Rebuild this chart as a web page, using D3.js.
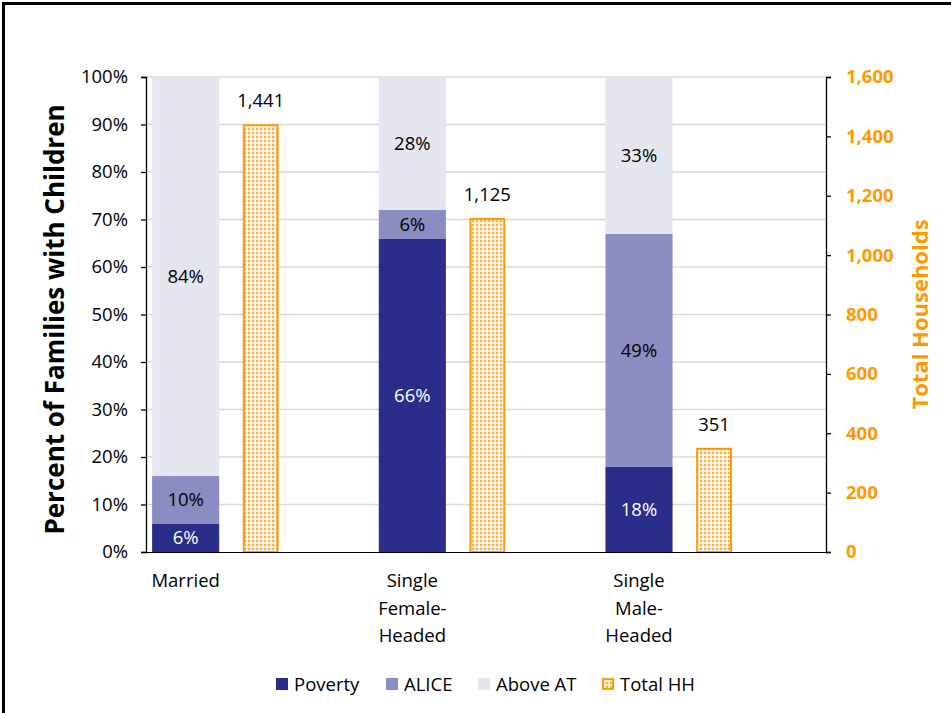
<!DOCTYPE html>
<html><head><meta charset="utf-8">
<script src="https://cdn.jsdelivr.net/npm/d3@7"></script>
<style>body{margin:0;background:#fff}svg{display:block}text{font-family:"Open Sans",Lato,sans-serif}</style>
</head><body><svg id="c" width="951" height="713"></svg>
<script>
const categories = ["Married", "Single Female-Headed", "Single Male-Headed"];
const categoryLines = [["Married"], ["Single", "Female-", "Headed"], ["Single", "Male-", "Headed"]];
const poverty = [6, 66, 18];
const alice = [10, 6, 49];
const aboveAT = [84, 28, 33];
const totalHH = [1441, 1125, 351];
const leftTicks = [0, 10, 20, 30, 40, 50, 60, 70, 80, 90, 100];
const rightTicks = [0, 200, 400, 600, 800, 1000, 1200, 1400, 1600];
const seriesNames = ["Poverty", "ALICE", "Above AT", "Total HH"];

const colors = {Poverty: "#2B2D8A", ALICE: "#8A8CC2", "Above AT": "#E6E6F0", orange: "#FF9900"};
const FONT = "Open Sans";
const FS = 18.5;
const svg = d3.select("#c");
const M = {l: 146, r: 826, t: 77, b: 552};

const defs = svg.append("defs");
const pat = defs.append("pattern").attr("id", "dots").attr("patternUnits", "userSpaceOnUse")
  .attr("width", 4).attr("height", 4);
pat.append("rect").attr("width", 4).attr("height", 4).attr("fill", "#FFEBCC");
pat.append("rect").attr("x", 0).attr("y", 0).attr("width", 2).attr("height", 2).attr("fill", "#FFB040");
pat.append("rect").attr("x", 2).attr("y", 2).attr("width", 2).attr("height", 2).attr("fill", "#FFFFFF");

// border
svg.append("line").attr("x1", 2).attr("x2", 951).attr("y1", 3.5).attr("y2", 3.5).attr("stroke", "#000").attr("stroke-width", 3);
svg.append("line").attr("x1", 3.5).attr("x2", 3.5).attr("y1", 2).attr("y2", 713).attr("stroke", "#000").attr("stroke-width", 3);

const x = d3.scaleBand().domain(categories).range([M.l, M.r]);
const sub = d3.scaleOrdinal().domain(["stack", "total"]).range([0.027, 0.427]);
const subW = {stack: 0.296, total: 0.158};
const y = d3.scaleLinear().domain([0, 100]).range([M.b, M.t]);
const y2 = d3.scaleLinear().domain([0, 1600]).range([M.b, M.t]);

// gridlines
svg.append("g").selectAll("line").data(leftTicks.filter(d => d > 0)).join("line")
  .attr("x1", M.l).attr("x2", M.r).attr("y1", d => y(d)).attr("y2", d => y(d))
  .attr("stroke", "#D9D9D9").attr("stroke-width", 1.3);

// stacked bars
const rows = categories.map((c, i) => ({cat: c, Poverty: poverty[i], ALICE: alice[i], "Above AT": aboveAT[i]}));
const stack = d3.stack().keys(["Poverty", "ALICE", "Above AT"])(rows);
const bw = x.bandwidth();
stack.forEach(layer => {
  const g = svg.append("g");
  g.selectAll("rect").data(layer).join("rect")
    .attr("x", d => x(d.data.cat) + sub("stack") * bw)
    .attr("width", subW.stack * bw)
    .attr("y", d => y(d[1])).attr("height", d => y(d[0]) - y(d[1]))
    .attr("fill", colors[layer.key]);
  g.selectAll("text").data(layer).join("text")
    .attr("x", d => x(d.data.cat) + (sub("stack") + subW.stack / 2) * bw)
    .attr("y", d => y((d[0] + d[1]) / 2)).attr("dy", "0.36em")
    .attr("text-anchor", "middle").attr("font-size", FS)
    .attr("fill", layer.key === "Poverty" ? "#fff" : "#000")
    .text(d => (d[1] - d[0]) + "%");
});

// total bars
const tg = svg.append("g");
tg.selectAll("rect").data(totalHH).join("rect")
  .attr("x", (d, i) => x(categories[i]) + sub("total") * bw + 1)
  .attr("width", subW.total * bw - 2)
  .attr("y", d => y2(d) + 1).attr("height", d => y2(0) - y2(d) - 1)
  .attr("fill", "url(#dots)").attr("stroke", colors.orange).attr("stroke-width", 2);
tg.selectAll("text").data(totalHH).join("text")
  .attr("x", (d, i) => x(categories[i]) + (sub("total") + subW.total / 2) * bw)
  .attr("y", d => y2(d) - 17)
  .attr("text-anchor", "middle").attr("font-size", FS).attr("fill", "#000")
  .text(d => d3.format(",")(d));

// baseline
svg.append("line").attr("x1", M.l).attr("x2", M.r).attr("y1", M.b + 0.5).attr("y2", M.b + 0.5).attr("stroke", "#000").attr("stroke-width", 1.2);

// left axis
const la = svg.append("g").attr("transform", `translate(${M.l},0)`)
  .call(d3.axisLeft(y).tickValues(leftTicks).tickFormat(d => d + "%").tickSize(5).tickSizeOuter(5).tickPadding(13));
la.select(".domain").attr("stroke", "#000").attr("stroke-width", 1.3);
la.selectAll(".tick line").attr("stroke", "#000").attr("stroke-width", 1.3);
la.selectAll("text").attr("font-size", FS).attr("fill", "#000").attr("font-family", FONT);

// right axis
const ra = svg.append("g").attr("transform", `translate(${M.r},0)`)
  .call(d3.axisRight(y2).tickValues(rightTicks).tickFormat(d3.format(",")).tickSize(5).tickSizeOuter(5).tickPadding(15));
ra.select(".domain").attr("stroke", "#000").attr("stroke-width", 1.3);
ra.selectAll(".tick line").attr("stroke", "#000").attr("stroke-width", 1.3);
ra.selectAll("text").attr("font-size", FS).attr("font-weight", "bold").attr("fill", colors.orange).attr("font-family", FONT);

// category labels
const cg = svg.append("g");
categories.forEach((c, i) => {
  const cx = x(c) + (sub("stack") + subW.stack / 2) * bw;
  const t = cg.append("text").attr("text-anchor", "middle").attr("font-size", FS).attr("x", cx).attr("y", 587);
  categoryLines[i].forEach((ln, j) => t.append("tspan").attr("x", cx).attr("dy", j === 0 ? 0 : 27.5).text(ln));
});

// axis titles
svg.append("text").attr("transform", `translate(64,${(M.t + M.b) / 2 + 5}) rotate(-90)`)
  .attr("text-anchor", "middle").attr("font-size", 26).attr("font-weight", "bold").attr("fill", "#000")
  .text("Percent of Families with Children");
svg.append("text").attr("transform", `translate(928,${(M.t + M.b) / 2}) rotate(-90)`)
  .attr("text-anchor", "middle").attr("font-size", 22).attr("font-weight", "bold").attr("fill", colors.orange)
  .text("Total Households");

// legend
const legX = [276, 386, 478, 602];
const lg = svg.append("g");
seriesNames.forEach((s, i) => {
  const it = lg.append("g").attr("transform", `translate(${legX[i]},678)`);
  if (s === "Total HH") {
    it.append("rect").attr("x", 1).attr("y", 1).attr("width", 10).attr("height", 10).attr("fill", "url(#dots)").attr("stroke", colors.orange).attr("stroke-width", 2);
  } else {
    it.append("rect").attr("width", 12).attr("height", 12).attr("fill", colors[s]);
  }
  it.append("text").attr("x", 18).attr("y", 6).attr("dy", "0.36em").attr("font-size", FS).attr("fill", "#000").text(s);
});
</script></body></html>
